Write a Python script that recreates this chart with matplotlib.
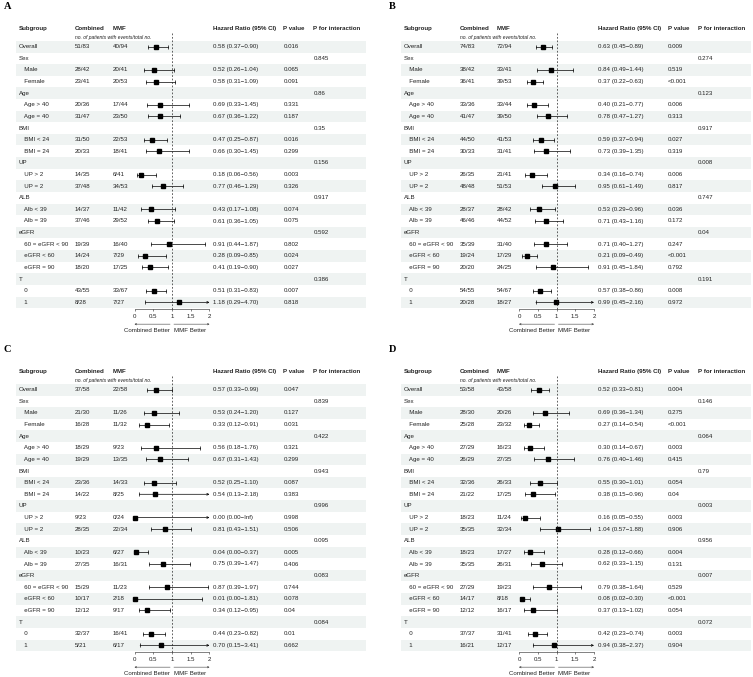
import numpy as np
import matplotlib.pyplot as plt

plt.rcParams['font.family'] = ['Liberation Sans', 'DejaVu Sans']

row_labels = ["Overall", "Sex", "   Male", "   Female", "Age", "   Age > 40", "   Age = 40",
              "BMI", "   BMI < 24", "   BMI = 24", "UP", "   UP > 2", "   UP = 2",
              "ALB", "   Alb < 39", "   Alb = 39", "eGFR", "   60 = eGFR < 90",
              "   eGFR < 60", "   eGFR = 90", "T", "   0", "   1"]
group_rows = ["Sex", "Age", "BMI", "UP", "ALB", "eGFR", "T"]

# panel A
a_comb = ["51/83", "28/42", "23/41", "20/36", "31/47", "31/50", "20/33", "14/35", "37/48",
          "14/37", "37/46", "19/39", "14/24", "18/20", "43/55", "8/28"]
a_mmf = ["40/94", "20/41", "20/53", "17/44", "23/50", "22/53", "18/41", "6/41", "34/53",
         "11/42", "29/52", "16/40", "7/29", "17/25", "33/67", "7/27"]
a_est = [0.58, 0.52, 0.58, 0.69, 0.67, 0.47, 0.66, 0.18, 0.77, 0.43, 0.61, 0.91, 0.28, 0.41, 0.51, 1.18]
a_lo = [0.37, 0.26, 0.31, 0.33, 0.36, 0.25, 0.30, 0.06, 0.46, 0.17, 0.36, 0.44, 0.09, 0.19, 0.31, 0.29]
a_hi = [0.90, 1.04, 1.09, 1.45, 1.22, 0.87, 1.45, 0.56, 1.29, 1.08, 1.05, 1.87, 0.85, 0.90, 0.83, 4.70]
a_p = ["0.016", "0.065", "0.091", "0.331", "0.187", "0.016", "0.299", "0.003", "0.326",
       "0.074", "0.075", "0.802", "0.024", "0.027", "0.007", "0.818"]
a_pint = ["0.845", "0.86", "0.35", "0.156", "0.917", "0.592", "0.386"]

# panel B
b_comb = ["74/83", "38/42", "36/41", "33/36", "41/47", "44/50", "30/33", "26/35", "48/48",
          "28/37", "46/46", "35/39", "19/24", "20/20", "54/55", "20/28"]
b_mmf = ["72/94", "33/41", "39/53", "33/44", "39/50", "41/53", "31/41", "21/41", "51/53",
         "28/42", "44/52", "31/40", "17/29", "24/25", "54/67", "18/27"]
b_est = [0.63, 0.84, 0.37, 0.40, 0.78, 0.59, 0.73, 0.34, 0.95, 0.53, 0.71, 0.71, 0.21, 0.91, 0.57, 0.99]
b_lo = [0.45, 0.49, 0.22, 0.21, 0.47, 0.37, 0.39, 0.16, 0.61, 0.29, 0.43, 0.40, 0.09, 0.45, 0.38, 0.45]
b_hi = [0.89, 1.44, 0.63, 0.77, 1.27, 0.94, 1.35, 0.74, 1.49, 0.96, 1.16, 1.27, 0.49, 1.84, 0.86, 2.16]
b_p = ["0.009", "0.519", "<0.001", "0.006", "0.313", "0.027", "0.319", "0.006", "0.817",
       "0.036", "0.172", "0.247", "<0.001", "0.792", "0.008", "0.972"]
b_pint = ["0.274", "0.123", "0.917", "0.008", "0.747", "0.04", "0.191"]

# panel C
c_comb = ["37/58", "21/30", "16/28", "18/29", "19/29", "23/36", "14/22", "9/23", "28/35",
          "10/23", "27/35", "15/29", "10/17", "12/12", "32/37", "5/21"]
c_mmf = ["22/58", "11/26", "11/32", "9/23", "13/35", "14/33", "8/25", "0/24", "22/34",
         "6/27", "16/31", "11/23", "2/18", "9/17", "16/41", "6/17"]
c_est = [0.57, 0.53, 0.33, 0.56, 0.67, 0.52, 0.54, 0.00, 0.81, 0.04, 0.75, 0.87, 0.01, 0.34, 0.44, 0.70]
c_lo = [0.33, 0.24, 0.12, 0.18, 0.31, 0.25, 0.13, 0.00, 0.43, 0.00, 0.39, 0.39, 0.00, 0.12, 0.23, 0.15]
c_hi = [0.99, 1.20, 0.91, 1.76, 1.43, 1.10, 2.18, np.inf, 1.51, 0.37, 1.47, 1.97, 1.81, 0.95, 0.82, 3.41]
c_p = ["0.047", "0.127", "0.031", "0.321", "0.299", "0.087", "0.383", "0.998", "0.506",
       "0.005", "0.406", "0.744", "0.078", "0.04", "0.01", "0.662"]
c_pint = ["0.839", "0.422", "0.943", "0.996", "0.095", "0.083", "0.084"]

# panel D
d_comb = ["53/58", "28/30", "25/28", "27/29", "26/29", "32/36", "21/22", "18/23", "35/35",
          "18/23", "35/35", "27/29", "14/17", "12/12", "37/37", "16/21"]
d_mmf = ["43/58", "20/26", "23/32", "16/23", "27/35", "26/33", "17/25", "11/24", "32/34",
         "17/27", "26/31", "19/23", "8/18", "16/17", "31/41", "12/17"]
d_est = [0.52, 0.69, 0.27, 0.30, 0.76, 0.55, 0.38, 0.16, 1.04, 0.28, 0.62, 0.79, 0.08, 0.37, 0.42, 0.94]
d_lo = [0.33, 0.36, 0.14, 0.14, 0.40, 0.30, 0.15, 0.05, 0.57, 0.12, 0.33, 0.38, 0.02, 0.13, 0.23, 0.38]
d_hi = [0.81, 1.34, 0.54, 0.67, 1.46, 1.01, 0.96, 0.55, 1.88, 0.66, 1.15, 1.64, 0.30, 1.02, 0.74, 2.37]
d_p = ["0.004", "0.275", "<0.001", "0.003", "0.415", "0.054", "0.04", "0.003", "0.906",
       "0.004", "0.131", "0.529", "<0.001", "0.054", "0.003", "0.904"]
d_pint = ["0.146", "0.064", "0.79", "0.003", "0.956", "0.007", "0.072"]

W, H = 753, 677
ROW = 11.62
TXT = '#222222'
FS = 4.4

fig = plt.figure(figsize=(W / 100, H / 100), dpi=100)


def px_axes(x0, y0, x1, y1):
    return fig.add_axes([x0 / W, 1 - y1 / H, (x1 - x0) / W, (y1 - y0) / H])


def fmt(v):
    return "Inf" if np.isinf(v) else f"{v:.2f}"


def draw_panel(letter, L, T, comb, mmf, est, lo, hi, pv, pint):
    top = T - 8
    bottom = T + 18.4 + 22 * ROW + 7
    y_top = (top - (T + 18.4)) / ROW
    y_bot = (bottom - (T + 18.4)) / ROW

    tax = px_axes(L, top, L + 350, bottom)
    tax.set_xlim(0, 350)
    tax.set_ylim(y_bot, y_top)
    tax.axis('off')

    fax = px_axes(L + 118.5, top, L + 193.5, bottom)
    fax.set_xlim(0, 2)
    fax.set_ylim(y_bot, y_top)
    fax.patch.set_alpha(0)
    for s in ['top', 'left', 'right']:
        fax.spines[s].set_visible(False)
    fax.spines['bottom'].set_linewidth(0.4)
    fax.spines['bottom'].set_color(TXT)
    fax.set_yticks([])
    fax.set_xticks([0, 0.5, 1, 1.5, 2])
    fax.set_xticklabels(["0", "0.5", "1", "1.5", "2"])
    fax.tick_params(axis='x', labelsize=FS, length=1.5, width=0.4, pad=1.5, colors=TXT)

    fig.text((L - 12) / W, 1 - (T - 21.5) / H, letter, fontsize=7.5, weight='bold',
             family='Liberation Serif', va='center', ha='left')

    # header
    hy = -18.4 / ROW
    kw = dict(fontsize=FS, weight='bold', va='center', color=TXT)
    tax.text(3, hy, "Subgroup", **kw)
    tax.text(59, hy, "Combined", **kw)
    tax.text(96.5, hy, "MMF", **kw)
    tax.text(197.5, hy, "Hazard Ratio (95% CI)", **kw)
    tax.text(267.5, hy, "P value", **kw)
    tax.text(297.5, hy, "P for interaction", **kw)
    tax.text(59, -9 / ROW, "no. of patients with events/total no.", fontsize=3.6,
             style='italic', va='center', color=TXT)

    kw = dict(fontsize=FS, va='center', color=TXT)
    k = 0
    g = 0
    for i, lab in enumerate(row_labels):
        if i % 2 == 0:
            tax.axhspan(i - 0.5, i + 0.5, color='#eff3f2', lw=0, zorder=0)
        tax.text(3, i, lab, **kw)
        if lab in group_rows:
            tax.text(297.5, i, pint[g], **kw)
            g += 1
            continue
        tax.text(59, i, comb[k], **kw)
        tax.text(96.5, i, mmf[k], **kw)
        tax.text(197.5, i, f"{fmt(est[k])} ({fmt(lo[k])}\u2212{fmt(hi[k])})", **kw)
        tax.text(267.5, i, pv[k], **kw)

        l = max(lo[k], 0)
        h = min(hi[k], 2)
        if hi[k] > 2:
            fax.annotate('', xy=(2, i), xytext=(l, i), annotation_clip=False,
                         arrowprops=dict(arrowstyle='->', lw=0.5, color='k',
                                         mutation_scale=3.5, shrinkA=0, shrinkB=0))
        else:
            fax.plot([l, h], [i, i], color='k', lw=0.5, clip_on=False)
            fax.plot([h], [i], marker='|', ms=3, mew=0.5, color='k', clip_on=False)
        fax.plot([l], [i], marker='|', ms=3, mew=0.5, color='k', clip_on=False)
        fax.plot([est[k]], [i], marker='s', ms=2.2, color='k', clip_on=False)
        k += 1

    # reference line
    fax.plot([1, 1], [-1.15, y_bot], color=TXT, lw=0.5, ls=(0, (2.5, 2.5)), clip_on=False)

    # direction arrows
    ya = y_bot + 14.8 / ROW
    yl = y_bot + 21.3 / ROW
    ap = dict(arrowstyle='->', lw=0.35, color=TXT, mutation_scale=3, shrinkA=0, shrinkB=0)
    fax.annotate('', xy=(0, ya), xytext=(0.95, ya), arrowprops=ap, annotation_clip=False)
    fax.annotate('', xy=(2, ya), xytext=(1.05, ya), arrowprops=ap, annotation_clip=False)
    fax.text(0.95, yl, "Combined Better", fontsize=FS, ha='right', va='center', color=TXT)
    fax.text(1.05, yl, "MMF Better", fontsize=FS, ha='left', va='center', color=TXT)


draw_panel("A", 16, 28.3, a_comb, a_mmf, a_est, a_lo, a_hi, a_p, a_pint)
draw_panel("B", 400.5, 28.3, b_comb, b_mmf, b_est, b_lo, b_hi, b_p, b_pint)
draw_panel("C", 16, 371.3, c_comb, c_mmf, c_est, c_lo, c_hi, c_p, c_pint)
draw_panel("D", 400.5, 371.3, d_comb, d_mmf, d_est, d_lo, d_hi, d_p, d_pint)

fig.savefig("out.png", dpi=100)
